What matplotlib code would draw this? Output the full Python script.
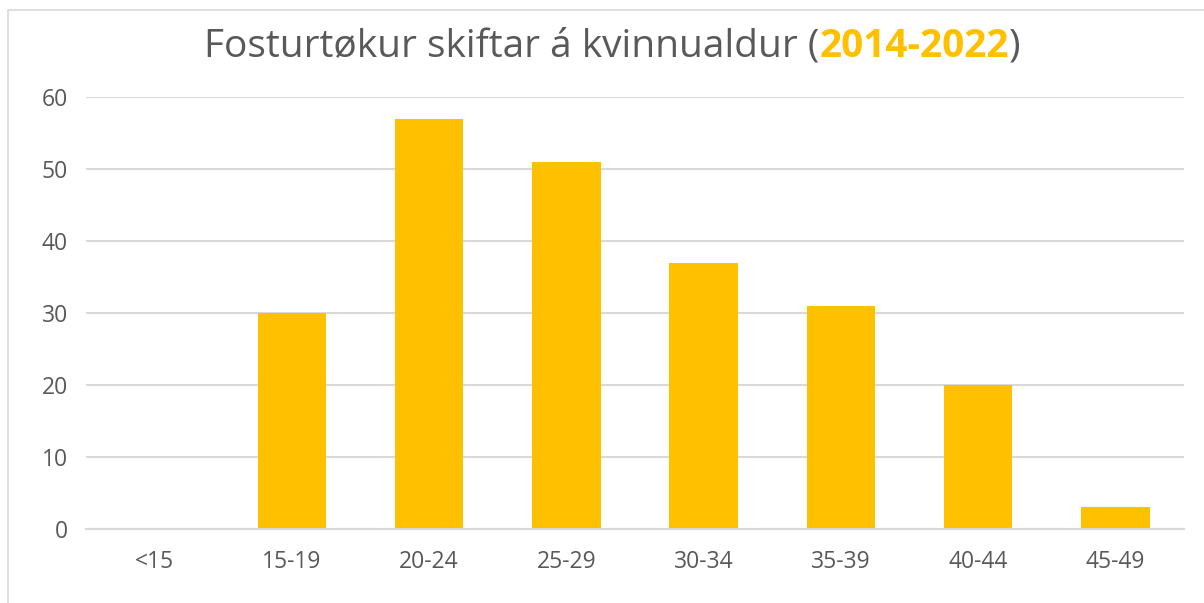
import matplotlib
matplotlib.use("Agg")
import matplotlib.pyplot as plt
from matplotlib.patches import Rectangle

# aldursbólkar og tal av fosturtøkum
aldursbolkar = ["<15", "15-19", "20-24", "25-29", "30-34", "35-39", "40-44", "45-49"]
fosturtokur = [0, 30, 57, 51, 37, 31, 20, 3]
y_ticks = [0, 10, 20, 30, 40, 50, 60]

heiti_fyrst = "Fosturtøkur skiftar á kvinnualdur ("
heiti_ar = "2014-2022"
heiti_sidst = ")"

GRAA = "#595959"
GUL = "#FFC000"
plt.rcParams["font.family"] = ["Open Sans", "DejaVu Sans"]

fig = plt.figure(figsize=(12.04, 6.03), dpi=100)
ax = fig.add_axes([86 / 1204, 74 / 603, 1098 / 1204, 432 / 603])

x = range(len(aldursbolkar))
ax.bar(x, fosturtokur, width=0.5, color=GUL, zorder=2)

ax.set_xlim(-0.5, len(aldursbolkar) - 0.5)
ax.set_ylim(0, 60)
ax.set_yticks(y_ticks)
ax.set_xticks(list(x))
ax.set_xticklabels(aldursbolkar)
ax.yaxis.grid(True, color="#d9d9d9", linewidth=1.5, zorder=0)
ax.set_axisbelow(True)
for s in ax.spines.values():
	s.set_visible(False)
ax.spines["bottom"].set_visible(True)
ax.spines["bottom"].set_color("#d9d9d9")
ax.spines["bottom"].set_linewidth(1.5)
ax.tick_params(axis="both", length=0, labelsize=16.5, labelcolor=GRAA)
ax.tick_params(axis="x", pad=15)
ax.tick_params(axis="y", pad=13)

# ramma kring myndina
fig.patches.append(Rectangle((8 / 1204, -0.1), 1.2, (603 - 10) / 603 + 0.1, transform=fig.transFigure,
	fill=False, edgecolor="#d9d9d9", linewidth=1.2))

# heiti í tveimum litum
fig.canvas.draw()
r = fig.canvas.get_renderer()
stykki = [(heiti_fyrst, GRAA, "normal"), (heiti_ar, GUL, "bold"), (heiti_sidst, GRAA, "normal")]
tekstir = [fig.text(0, 0, s, fontsize=28, color=c, fontweight=w, va="baseline") for s, c, w in stykki]
breiddir = [t.get_window_extent(r).width for t in tekstir]
samla = sum(breiddir)
x0 = 612 - samla / 2
for t, b in zip(tekstir, breiddir):
	t.set_position((x0 / 1204, (603 - 57) / 603))
	x0 += b

fig.savefig("out.png", dpi=100)
